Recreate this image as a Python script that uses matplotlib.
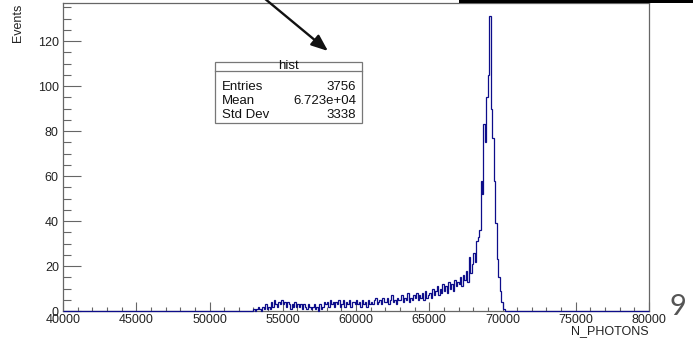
import numpy as np
import matplotlib.pyplot as plt
from matplotlib.patches import Rectangle
from matplotlib.lines import Line2D

plt.rcParams['font.family'] = ['Liberation Sans', 'DejaVu Sans']

# Data ------------------------------------------------------------------------
X_MIN, X_MAX, BIN_W = 40000, 80000, 100
FIRST_BIN = 53000
counts = [
    1, 0, 1, 2, 1, 0, 2, 1, 3, 1,            # 53000
    2, 1, 4, 2, 5, 3, 2, 4, 3, 5,            # 54000
    3, 4, 2, 4, 3, 1, 3, 2, 4, 2,            # 55000
    3, 2, 3, 1, 3, 2, 1, 3, 2, 1,            # 56000
    2, 3, 1, 2, 0, 3, 1, 2, 4, 3,            # 57000
    4, 2, 5, 3, 4, 2, 4, 3, 5, 2,            # 58000
    3, 5, 2, 4, 3, 5, 2, 4, 4, 3,            # 59000
    5, 3, 4, 2, 5, 3, 4, 2, 5, 3,            # 60000
    4, 3, 5, 6, 3, 4, 5, 3, 6, 4,            # 61000
    4, 6, 3, 5, 7, 4, 5, 3, 6, 5,            # 62000
    5, 7, 4, 6, 5, 8, 4, 6, 5, 7,            # 63000
    6, 8, 5, 7, 6, 8, 5, 9, 6, 7,            # 64000
    8, 6, 10, 7, 9, 11, 7, 10, 8, 12,        # 65000
    9, 11, 8, 13, 10, 12, 9, 14, 11, 13,     # 66000
    12, 15, 11, 16, 14, 18, 13, 24, 17, 21,  # 67000
    26, 22, 31, 33, 36, 58, 52, 83, 75, 95,  # 68000
    105, 131, 90, 77, 58, 39, 23, 15, 9, 4,  # 69000
    1, 1,                                    # 70000
]
stats_title = 'hist'
stats_names = ['Entries', 'Mean', 'Std Dev']
stats_values = ['3756', '6.723e+04', '3338']

edges = np.arange(X_MIN, X_MAX + BIN_W, BIN_W)
full = np.zeros(len(edges) - 1)
i0 = (FIRST_BIN - X_MIN) // BIN_W
full[i0:i0 + len(counts)] = counts

# Figure ----------------------------------------------------------------------
W, H = 693, 342
fig = plt.figure(figsize=(W / 100, H / 100), dpi=100)
fig.patch.set_facecolor('white')

def fx(px):
    return px / W

def fy(py):
    return 1 - py / H

ax = fig.add_axes([fx(63), fy(311), fx(649) - fx(63), fy(3.3) - fy(311)])
ax.stairs(full, edges, color='#0d0d8a', lw=0.9, clip_on=False, zorder=3)
ax.set_xlim(X_MIN, X_MAX)
ax.set_ylim(0, 136.8)

gc = '#666666'
tc = '#222222'
for s in ax.spines.values():
    s.set_color(gc)
    s.set_linewidth(0.9)

ax.set_xticks(np.arange(40000, 80001, 5000))
ax.set_xticks(np.arange(40000, 80001, 1000), minor=True)
ax.set_yticks(np.arange(0, 121, 20))
ax.set_yticks(np.arange(0, 136, 5), minor=True)
ax.tick_params(axis='x', which='major', direction='in', length=6.7, width=0.8,
               color=gc, labelsize=9, labelcolor=tc, pad=2.5)
ax.tick_params(axis='x', which='minor', direction='in', length=3.1, width=0.8,
               color=gc)
ax.tick_params(axis='y', which='major', direction='in', length=12.7, width=0.8,
               color=gc, labelsize=9, labelcolor=tc, pad=3)
ax.tick_params(axis='y', which='minor', direction='in', length=6, width=0.8,
               color=gc)

fig.text(fx(649), fy(331.5), 'N_PHOTONS', ha='right', va='center',
         fontsize=9, color=tc)
fig.text(fx(17.7), fy(3.3), 'Events', ha='center', va='top', rotation=90,
         fontsize=9, color=tc)

# Stats box -------------------------------------------------------------------
bx0, bx1, by0, by1 = 215, 361.7, 61.7, 123.3
fig.add_artist(Rectangle((fx(bx0), fy(by1)), fx(bx1) - fx(bx0),
                         fy(by0) - fy(by1), transform=fig.transFigure,
                         facecolor='white', edgecolor='#777777', lw=0.9,
                         zorder=5))
fig.add_artist(Line2D([fx(bx0), fx(bx1)], [fy(71), fy(71)],
                      transform=fig.transFigure, color='#777777', lw=0.9,
                      zorder=6))
fig.text(fx((bx0 + bx1) / 2), fy(66.3), stats_title, ha='center',
         va='center', fontsize=9.5, color='#111111', zorder=7)
for k, (nm, vl) in enumerate(zip(stats_names, stats_values)):
    yy = fy(87.3 + k * 13.9)
    fig.text(fx(221.7), yy, nm, ha='left', va='center', fontsize=9.5,
             color='#111111', zorder=7)
    fig.text(fx(356), yy, vl, ha='right', va='center', fontsize=9.5,
             color='#111111', zorder=7)

# Slide decorations -----------------------------------------------------------
fig.add_artist(Rectangle((fx(459), fy(2.8)), fx(693) - fx(459),
                         fy(0) - fy(2.8), transform=fig.transFigure,
                         facecolor='black', edgecolor='none', zorder=8))
ax.annotate('', xy=(fx(328), fy(51)), xycoords='figure fraction',
            xytext=(fx(264), fy(-2)), textcoords='figure fraction',
            arrowprops=dict(arrowstyle='-|>,head_length=1.0,head_width=0.4',
                            color='#111111', lw=1.7, shrinkA=0, shrinkB=0),
            annotation_clip=False)
fig.text(fx(678), fy(307), '9', ha='center', va='center', fontsize=21,
         color='#555555', family=['Lato', 'DejaVu Sans'])

fig.savefig('out.png', dpi=100)
